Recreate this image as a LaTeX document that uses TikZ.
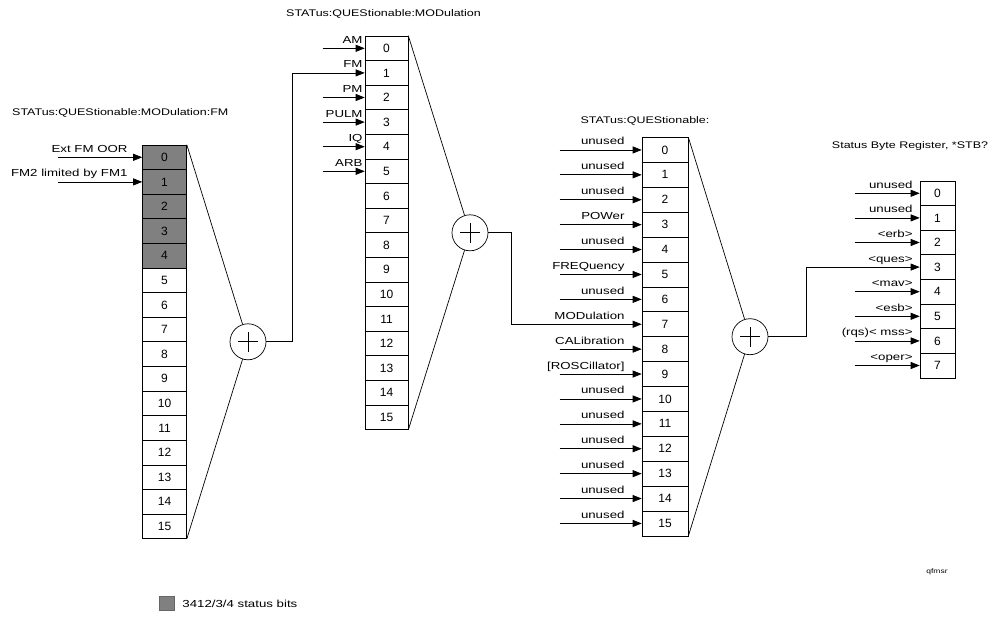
\documentclass[tikz,border=0pt]{standalone}
\usepackage{fontspec}
\setmainfont{Liberation Sans}[FakeStretch=1.3]
\newfontfamily\cellfont{Liberation Sans}
\usetikzlibrary{arrows.meta}

\begin{document}
\begin{tikzpicture}[x=1pt, y=-1pt,
  lab/.style={font=\fontsize{10.2pt}{12pt}\selectfont, inner sep=0pt},
  ttl/.style={font=\fontsize{9.6pt}{11pt}\selectfont, inner sep=0pt},
  cell/.style={draw=black, line width=0.6pt, inner sep=0pt, minimum height=24.6pt,
    font=\cellfont\fontsize{12pt}{14pt}\selectfont},
  marked/.style={cell, fill=black!50},
  sum/.style={circle, draw=black, line width=0.7pt, minimum size=36pt, inner sep=0pt,
    path picture={\draw[line width=0.8pt]
      ([xshift=-10pt]path picture bounding box.center) -- ([xshift=10pt]path picture bounding box.center)
      ([yshift=-10pt]path picture bounding box.center) -- ([yshift=10pt]path picture bounding box.center);}},
  inarr/.style={line width=0.7pt, -{Triangle[length=9pt,width=7pt]}},
  conn/.style={line width=0.7pt}]
\useasboundingbox (0,0) rectangle (999,620);

% MODulation:FM register
\node[ttl, anchor=base west] (fmtitle) at (12,115.6) {STATus:QUEStionable:MODulation:FM};
\foreach \i in {0,...,4}
  \node[marked, minimum width=44pt] (fm\i) at (164.5,{157.3+24.6*\i}) {\i};
\foreach \i in {5,...,15}
  \node[cell, minimum width=44pt] (fm\i) at (164.5,{157.3+24.6*\i}) {\i};
\foreach \i/\t in {0/Ext FM OOR,1/FM2 limited by FM1} {
  \node[lab, anchor=base east] (fml\i) at ([xshift=-14.5pt,yshift=5pt]fm\i.west) {\t};
  \coordinate (fmt\i) at ([xshift=-84.5pt]fm\i.west);
  \draw[inarr] (fmt\i) -- (fm\i.west);
}
\node[sum] (fmsum) at (248,341.8) {};
\draw[conn] (fm0.north east) -- (fmsum);
\draw[conn] (fm15.south east) -- (fmsum);

% MODulation register
\node[ttl, anchor=base west] (modtitle) at (286,17) {STATus:QUEStionable:MODulation};
\foreach \i in {0,...,15}
  \node[cell, minimum width=43pt] (mod\i) at (386.5,{48.3+24.6*\i}) {\i};
\foreach \i/\t in {0/AM,1/FM,2/PM,3/PULM,4/IQ,5/ARB} {
  \node[lab, anchor=base east] (modl\i) at ([xshift=-2pt,yshift=5pt]mod\i.west) {\t};
  \ifnum\i=1 \else
    \coordinate (modt\i) at ([xshift=-42pt]mod\i.west);
    \draw[inarr] (modt\i) -- (mod\i.west);
  \fi
}
\node[sum] (modsum) at (470,232.8) {};
\draw[conn] (mod0.north east) -- (modsum);
\draw[conn] (mod15.south east) -- (modsum);
\draw[inarr] (fmsum.east) -| ([xshift=-72pt]mod1.west) -- (mod1.west);

% QUEStionable register
\node[ttl, anchor=base] (questitle) at (645,124) {STATus:QUEStionable:};
\foreach \i in {0,...,15}
  \node[cell, minimum width=46pt, minimum height=24.9pt] (ques\i) at (665,{149.95+24.9*\i}) {\i};
\foreach \i/\t in {0/unused,1/unused,2/unused,3/POWer,4/unused,5/FREQuency,6/unused,
    7/MODulation,8/CALibration,9/{[ROSCillator]},10/unused,11/unused,12/unused,
    13/unused,14/unused,15/unused} {
  \node[lab, anchor=base east] (quesl\i) at ([xshift=-17pt,yshift=5pt]ques\i.west) {\t};
  \ifnum\i=7 \else
    \coordinate (quest\i) at ([xshift=-82pt]ques\i.west);
    \draw[inarr] (quest\i) -- (ques\i.west);
  \fi
}
\node[sum] (quessum) at (750,336.7) {};
\draw[conn] (ques0.north east) -- (quessum);
\draw[conn] (ques15.south east) -- (quessum);
\draw[inarr] (modsum.east) -| ([xshift=-130pt]ques7.west) -- (ques7.west);

% Status Byte register
\node[ttl, anchor=base] (stbtitle) at (910,149) {Status Byte Register, *STB?};
\foreach \i in {0,...,7}
  \node[cell, minimum width=35pt] (stb\i) at (937.5,{193.3+24.6*\i}) {\i};
\foreach \i/\t in {0/unused,1/unused,2/<erb>,3/<ques>,4/<mav>,5/<esb>,
    6/{(rqs)< mss>},7/<oper>} {
  \node[lab, anchor=base east] (stbl\i) at ([xshift=-7pt,yshift=5pt]stb\i.west) {\t};
  \ifnum\i=3 \else
    \coordinate (stbt\i) at ([xshift=-65pt]stb\i.west);
    \draw[inarr] (stbt\i) -- (stb\i.west);
  \fi
}
\draw[inarr] (quessum.east) -| ([xshift=-113pt]stb3.west) -- (stb3.west);

% legend and tag
\node[draw=black!60, fill=black!50, minimum width=15pt, minimum height=14pt, inner sep=0pt] (legbox) at (166.5,603.5) {};
\node[lab, anchor=west] (legtext) at ([xshift=8pt]legbox.east) {3412/3/4 status bits};
\node[font=\fontsize{6.5pt}{8pt}\selectfont, inner sep=0pt] (tag) at (937,572) {qfmsr};
\end{tikzpicture}
\end{document}
